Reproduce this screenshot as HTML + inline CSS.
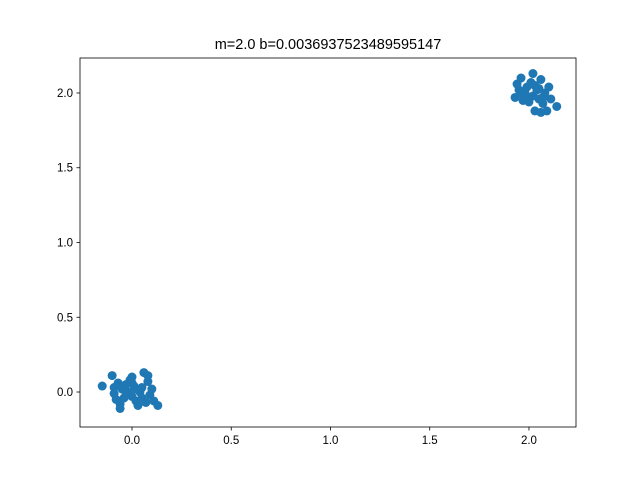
<!DOCTYPE html>
<html><head><meta charset="utf-8"><style>
html,body{margin:0;padding:0;background:#fff;}
svg{display:block;font-family:"Liberation Sans","DejaVu Sans",sans-serif;}
</style></head><body>
<svg id="chart" width="640" height="480">
<rect width="640" height="480" fill="#fff"/>
<text x="328" y="49" font-size="14.5" text-anchor="middle">m=2.0 b=0.0036937523489595147</text>
<g id="points"></g>
<g id="axes"></g>
</svg>
<script>
const xs = [-0.15,-0.10,-0.09,-0.09,-0.07,-0.06,-0.06,-0.05,-0.04,-0.03,-0.02,-0.01,0.0,0.0,0.01,0.02,0.02,0.03,0.04,0.05,0.06,0.07,0.08,0.08,0.09,0.10,0.11,0.13,-0.08,0.0,-0.03,0.05,
1.93,1.94,1.95,1.96,1.97,1.98,1.99,2.0,2.01,2.02,2.02,2.03,2.04,2.05,2.06,2.06,2.07,2.08,2.09,2.10,2.11,2.14,1.99,2.03,1.96,2.05,2.07];
const ys = [0.04,0.11,0.03,-0.01,0.06,-0.08,-0.11,0.02,-0.04,0.05,0.0,0.08,0.10,-0.03,0.04,-0.06,0.02,-0.09,0.0,-0.04,0.13,-0.07,0.07,0.11,-0.02,0.02,-0.06,-0.09,-0.05,0.06,-0.02,0.03,
1.97,2.06,2.02,2.10,1.95,2.0,2.04,1.94,2.07,2.13,1.98,1.88,2.02,1.96,1.87,2.09,1.93,2.0,1.88,2.04,1.96,1.91,1.96,2.05,2.0,2.03,1.97];
const xTicks = [0.0,0.5,1.0,1.5,2.0];
const yTicks = [0.0,0.5,1.0,1.5,2.0];
const xMin=-0.262, xMax=2.237, yMin=-0.234, yMax=2.234;
const L=80,R=576,T=58,B=427;
const sx=v=>L+(v-xMin)/(xMax-xMin)*(R-L);
const sy=v=>B-(v-yMin)/(yMax-yMin)*(B-T);
const NS='http://www.w3.org/2000/svg';
const pts=document.getElementById('points');
for(let i=0;i<xs.length;i++){
  const c=document.createElementNS(NS,'circle');
  c.setAttribute('cx',sx(xs[i]));c.setAttribute('cy',sy(ys[i]));c.setAttribute('r',4.5);c.setAttribute('fill','#1f77b4');
  
  
  pts.appendChild(c);
}
const ax=document.getElementById('axes');
const fr=document.createElementNS(NS,'rect');
fr.setAttribute('x',L);fr.setAttribute('y',T);fr.setAttribute('width',R-L);fr.setAttribute('height',B-T);
fr.setAttribute('fill','none');fr.setAttribute('stroke','#000');fr.setAttribute('stroke-width','0.8');


ax.appendChild(fr);
xTicks.forEach(t=>{
  const x=sx(t);
  const l=document.createElementNS(NS,'line');
  l.setAttribute('x1',x);l.setAttribute('x2',x);l.setAttribute('y1',B);l.setAttribute('y2',B+3.5);l.setAttribute('stroke','#000');l.setAttribute('stroke-width','0.8');
  
  
  ax.appendChild(l);
  const tx=document.createElementNS(NS,'text');
  tx.setAttribute('x',x);tx.setAttribute('y',B+17);tx.setAttribute('font-size','11.5');tx.setAttribute('text-anchor','middle');
  tx.textContent=t.toFixed(1);
  
  
  ax.appendChild(tx);
});
yTicks.forEach(t=>{
  const y=sy(t);
  const l=document.createElementNS(NS,'line');
  l.setAttribute('x1',L-3.5);l.setAttribute('x2',L);l.setAttribute('y1',y);l.setAttribute('y2',y);l.setAttribute('stroke','#000');l.setAttribute('stroke-width','0.8');
  
  
  ax.appendChild(l);
  const tx=document.createElementNS(NS,'text');
  tx.setAttribute('x',L-7);tx.setAttribute('y',y+4);tx.setAttribute('font-size','11.5');tx.setAttribute('text-anchor','end');
  tx.textContent=t.toFixed(1);
  
  
  ax.appendChild(tx);
});
</script>
</body></html>
